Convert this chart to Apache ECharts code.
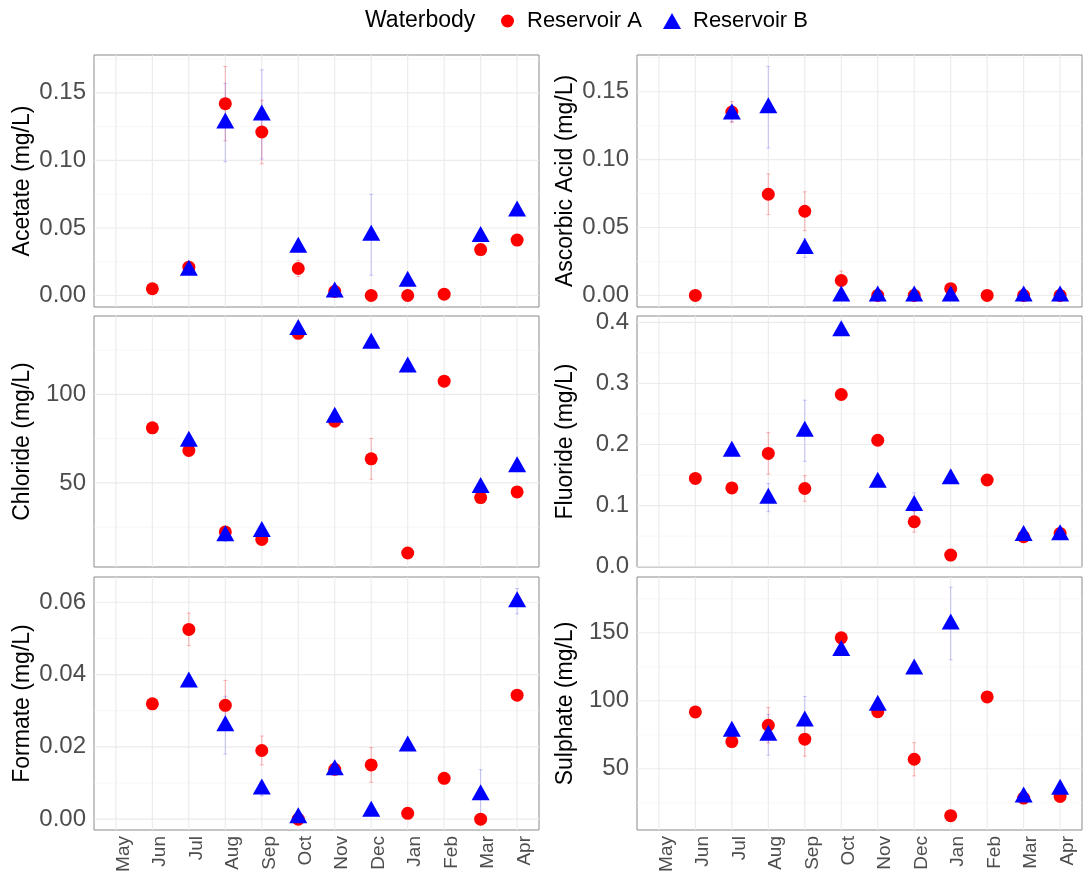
<!DOCTYPE html>
<html><head><meta charset="utf-8">
<script src="https://cdn.jsdelivr.net/npm/echarts@6/dist/echarts.min.js"></script>
<style>html,body{margin:0;padding:0;background:#fff}#c{width:1083px;height:877px}</style>
</head><body><div id="c"></div>
<script>
// ---------- DATA ----------
const months = ['May','Jun','Jul','Aug','Sep','Oct','Nov','Dec','Jan','Feb','Mar','Apr'];

const acetateA    = [null, 0.005, 0.021, 0.142, 0.121, 0.020, 0.003, 0.000, 0.000, 0.001, 0.034, 0.041];
const acetateAErr = [null, 0, 0.002, 0.0275, 0.0235, 0.006, 0, 0, 0, 0, 0.002, 0.002];
const acetateB    = [null, null, 0.019, 0.128, 0.134, 0.036, 0.003, 0.045, 0.011, null, 0.044, 0.063];
const acetateBErr = [null, null, 0.002, 0.029, 0.033, 0.002, 0.001, 0.030, 0.002, null, 0.002, 0.002];
const acetateTicks = [0, 0.05, 0.10, 0.15];
const acetateTickLabels = ['0.00','0.05','0.10','0.15'];
const acetateMinor = [0.025, 0.075, 0.125, 0.175];

const ascorbicA    = [null, 0, 0.135, 0.0745, 0.062, 0.011, 0, 0, 0.005, 0, 0, 0];
const ascorbicAErr = [null, 0, 0.0077, 0.015, 0.0143, 0.007, 0, 0, 0.001, 0, 0, 0];
const ascorbicB    = [null, null, 0.134, 0.1385, 0.035, 0, 0, 0, 0, null, 0, 0];
const ascorbicBErr = [null, null, 0.006, 0.030, 0.007, 0, 0, 0, 0, null, 0, 0];
const ascorbicTicks = [0, 0.05, 0.10, 0.15];
const ascorbicTickLabels = ['0.00','0.05','0.10','0.15'];
const ascorbicMinor = [0.025, 0.075, 0.125, 0.175];

const chlorideA    = [null, 81.1, 68.3, 22.3, 18.1, 134.5, 84.9, 63.6, 10.4, 107.5, 41.7, 44.9];
const chlorideAErr = [null, 0, 1.5, 1, 1, 1.5, 1, 11.5, 0.5, 0, 1, 0.5];
const chlorideB    = [null, null, 73.8, 20.4, 22.8, 137, 87.4, 129.2, 115.7, null, 47.7, 59.4];
const chlorideBErr = [null, null, 1, 3.5, 1, 1, 1, 2.5, 2, null, 1, 1];
const chlorideTicks = [50, 100];
const chlorideTickLabels = ['50','100'];
const chlorideMinor = [25, 75, 125];

const fluorideA    = [null, 0.1446, 0.129, 0.1855, 0.128, 0.282, 0.207, 0.0736, 0.019, 0.142, 0.049, 0.0545];
const fluorideAErr = [null, 0, 0.003, 0.034, 0.021, 0.004, 0.003, 0.017, 0.002, 0, 0.003, 0.003];
const fluorideB    = [null, null, 0.190, 0.113, 0.2226, 0.387, 0.139, 0.101, 0.145, null, 0.052, 0.053];
const fluorideBErr = [null, null, 0.004, 0.023, 0.05, 0.004, 0.003, 0.02, 0.003, null, 0.002, 0.002];
const fluorideTicks = [0, 0.1, 0.2, 0.3, 0.4];
const fluorideTickLabels = ['0.0','0.1','0.2','0.3','0.4'];
const fluorideMinor = [0.05, 0.15, 0.25, 0.35];

const formateA    = [null, 0.0319, 0.0525, 0.0315, 0.019, 0, 0.0138, 0.015, 0.0016, 0.0113, 0, 0.0343];
const formateAErr = [null, 0, 0.0045, 0.0069, 0.004, 0.0005, 0.0005, 0.0048, 0, 0, 0, 0.001];
const formateB    = [null, null, 0.0381, 0.026, 0.0085, 0.0005, 0.0138, 0.0023, 0.0204, null, 0.0069, 0.0603];
const formateBErr = [null, null, 0.001, 0.008, 0.002, 0.0005, 0.001, 0.0005, 0.0005, null, 0.0068, 0.0035];
const formateTicks = [0, 0.02, 0.04, 0.06];
const formateTickLabels = ['0.00','0.02','0.04','0.06'];
const formateMinor = [0.01, 0.03, 0.05];

const sulphateA    = [null, 91.8, 70, 82, 71.8, 146.3, 92, 57, 15.5, 102.8, 28.5, 29.7];
const sulphateAErr = [null, 0, 1, 13, 12.5, 2, 1, 12.2, 0.5, 1, 1, 1];
const sulphateB    = [null, null, 77.9, 75, 85.5, 137.3, 97, 123.8, 156.8, null, 29.7, 35.3];
const sulphateBErr = [null, null, 1, 15, 17.7, 1, 1, 1.5, 26.7, null, 1, 1];
const sulphateTicks = [50, 100, 150];
const sulphateTickLabels = ['50','100','150'];
const sulphateMinor = [25, 75, 125, 175];

// ---------- PANELS ----------
const panels = [
  {title:'Acetate (mg/L)', a:acetateA, aErr:acetateAErr, b:acetateB, bErr:acetateBErr, ticks:acetateTicks, labels:acetateTickLabels, minor:acetateMinor, min:-0.0085, max:0.178, step:0.0005},
  {title:'Ascorbic Acid (mg/L)', a:ascorbicA, aErr:ascorbicAErr, b:ascorbicB, bErr:ascorbicBErr, ticks:ascorbicTicks, labels:ascorbicTickLabels, minor:ascorbicMinor, min:-0.0085, max:0.177, step:0.0005},
  {title:'Chloride (mg/L)', a:chlorideA, aErr:chlorideAErr, b:chlorideB, bErr:chlorideBErr, ticks:chlorideTicks, labels:chlorideTickLabels, minor:chlorideMinor, min:2.5, max:144.3, step:0.5},
  {title:'Fluoride (mg/L)', a:fluorideA, aErr:fluorideAErr, b:fluorideB, bErr:fluorideBErr, ticks:fluorideTicks, labels:fluorideTickLabels, minor:fluorideMinor, min:-0.0005, max:0.4105, step:0.0005},
  {title:'Formate (mg/L)', a:formateA, aErr:formateAErr, b:formateB, bErr:formateBErr, ticks:formateTicks, labels:formateTickLabels, minor:formateMinor, min:-0.003, max:0.067, step:0.001},
  {title:'Sulphate (mg/L)', a:sulphateA, aErr:sulphateAErr, b:sulphateB, bErr:sulphateBErr, ticks:sulphateTicks, labels:sulphateTickLabels, minor:sulphateMinor, min:5, max:191, step:1}
];

const layout = [
  {left:94, top:55, height:252}, {left:637, top:55, height:252},
  {left:94, top:316, height:251}, {left:637, top:316, height:251},
  {left:94, top:577, height:253}, {left:637, top:577, height:253}
];

const FONT = '"Liberation Sans", Arial, sans-serif';
const RED = '#ff0000', BLUE = '#0000ff';

const grids = [], xAxes = [], yAxes = [], series = [];

panels.forEach((p, i) => {
  const L = layout[i];
  grids.push({left:L.left, top:L.top, width:445, height:L.height, show:true,
    backgroundColor:'#ffffff', borderColor:'#8a8a8a', borderWidth:1, containLabel:false});
  const bottomRow = i >= 4;
  xAxes.push({
    type:'value', gridIndex:i, min:-0.6, max:11.6, interval:0.2,
    axisLine:{show:false}, axisTick:{show:false}, splitLine:{show:false},
    axisLabel:{show:bottomRow, rotate:90, margin:6, fontSize:19, color:'#4d4d4d', fontFamily:FONT,
      verticalAlign:'top', lineHeight:15,
      formatter:(v)=>{ const k = Math.round(v); return Math.abs(v-k) < 0.05 && k>=0 && k<months.length ? months[k] : ''; }}
  });
  yAxes.push({
    type:'value', gridIndex:i, min:p.min, max:p.max, interval:p.step,
    name:p.title, nameLocation:'middle', nameGap:60,
    nameTextStyle:{fontSize:23, color:'#000', fontFamily:FONT},
    axisLine:{show:false}, axisTick:{show:false}, splitLine:{show:false},
    axisLabel:{margin:8, fontSize:24, color:'#4d4d4d', fontFamily:FONT,
      formatter:(v)=>{ for (let j=0;j<p.ticks.length;j++){ if (Math.abs(v-p.ticks[j]) < p.step/2) return p.labels[j]; } return ''; }}
  });

  // gridlines
  const gdata = [];
  p.ticks.forEach(v => gdata.push([0, v]));
  p.minor.forEach(v => gdata.push([1, v]));
  months.forEach((m, k) => gdata.push([2, k]));
  series.push({
    type:'custom', xAxisIndex:i, yAxisIndex:i, z:0, silent:true, data:gdata,
    encode:{x:-1, y:-1},
    renderItem:(params, api) => {
      const cs = params.coordSys; const kind = api.value(0), v = api.value(1);
      if (kind === 2) {
        const x = api.coord([v, p.min])[0];
        return {type:'line', shape:{x1:x, y1:cs.y, x2:x, y2:cs.y+cs.height}, style:{stroke:'#ebebeb', lineWidth:1.1}};
      }
      const y = api.coord([0, v])[1];
      if (y < cs.y || y > cs.y + cs.height) return null;
      return {type:'line', shape:{x1:cs.x, y1:y, x2:cs.x+cs.width, y2:y},
        style:{stroke: kind===0 ? '#ebebeb' : '#f4f4f4', lineWidth: kind===0 ? 1.1 : 0.7}};
    }
  });

  // error bars
  const errSeries = (vals, errs, color) => {
    const d = [];
    vals.forEach((v, k) => { if (v != null && errs[k] > 0) d.push([k, v, errs[k]]); });
    return {
      type:'custom', xAxisIndex:i, yAxisIndex:i, z:1, silent:true, data:d,
      encode:{x:0, y:1},
      renderItem:(params, api) => {
        const x = api.value(0), v = api.value(1), e = api.value(2);
        const lo = api.coord([x, v-e]), hi = api.coord([x, v+e]);
        const st = {stroke:color, lineWidth:1};
        return {type:'group', children:[
          {type:'line', shape:{x1:lo[0], y1:lo[1], x2:hi[0], y2:hi[1]}, style:st},
          {type:'line', shape:{x1:lo[0]-2, y1:lo[1], x2:lo[0]+2, y2:lo[1]}, style:st},
          {type:'line', shape:{x1:hi[0]-2, y1:hi[1], x2:hi[0]+2, y2:hi[1]}, style:st}
        ]};
      }
    };
  };
  series.push(errSeries(p.a, p.aErr, 'rgba(255,0,0,0.28)'));
  series.push(errSeries(p.b, p.bErr, 'rgba(0,0,255,0.2)'));

  const pts = (vals) => { const d = []; vals.forEach((v,k)=>{ if (v != null) d.push([k, v]); }); return d; };
  series.push({name:'Reservoir A', type:'scatter', xAxisIndex:i, yAxisIndex:i, z:3,
    symbol:'circle', symbolSize:13, itemStyle:{color:RED, opacity:1}, data:pts(p.a), silent:true});
  series.push({name:'Reservoir B', type:'scatter', xAxisIndex:i, yAxisIndex:i, z:4,
    symbol:'triangle', symbolSize:[18,16], symbolOffset:[0,-2], itemStyle:{color:BLUE, opacity:1}, data:pts(p.b), silent:true});
});

const chart = echarts.init(document.getElementById('c'), null, {renderer:'canvas'});
chart.setOption({
  animation:false,
  backgroundColor:'#ffffff',
  textStyle:{fontFamily:FONT},
  grid:grids, xAxis:xAxes, yAxis:yAxes, series:series,
  legend:[
    {data:['Reservoir A'], left:496, top:4, itemWidth:13, itemHeight:13, selectedMode:false,
      textStyle:{fontSize:22, color:'#000', fontFamily:FONT, padding:[0,0,0,8], lineHeight:24}},
    {data:[{name:'Reservoir B', icon:'triangle'}], left:658, top:4, itemWidth:18, itemHeight:16, selectedMode:false,
      textStyle:{fontSize:22, color:'#000', fontFamily:FONT, padding:[0,0,0,7], lineHeight:24}}
  ],
  graphic:[{type:'text', left:365, top:9, style:{text:'Waterbody', fill:'#000', font:'23px "Liberation Sans", Arial, sans-serif', lineHeight:24}}]
});
</script></body></html>
